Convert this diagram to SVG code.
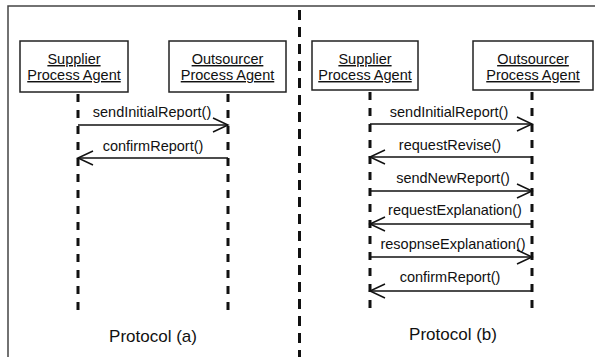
<svg xmlns="http://www.w3.org/2000/svg" width="599" height="357" viewBox="0 0 599 357">
<style>
text{font-family:"Liberation Sans",Arial,sans-serif;fill:#111}
.box{fill:#fff;stroke:#222;stroke-width:1.5}
.name{font-size:14.5px;text-decoration:underline;text-anchor:middle}
.msg{font-size:14.5px;text-anchor:middle}
.cap{font-size:17px;text-anchor:middle}
.life{stroke:#111;stroke-width:3;stroke-dasharray:8 8;fill:none}
.arr{stroke:#111;stroke-width:1.5;fill:none;marker-end:url(#ah)}
</style>
<defs>
<marker id="ah" markerUnits="userSpaceOnUse" markerWidth="20" markerHeight="20" refX="16" refY="8" orient="auto">
<path d="M1,1 L16,8 L1,15" fill="none" stroke="#111" stroke-width="1.5"/>
</marker>
</defs>
<rect width="599" height="357" fill="#fff"/>
<g id="frame">
<path d="M8,357 L8,6 L595,6" fill="none" stroke="#444" stroke-width="1.5"/>
<line x1="299.5" y1="10" x2="299.5" y2="357" stroke="#111" stroke-width="3" stroke-dasharray="10 7"/>
</g>
<g id="a-supplier">
<rect class="box" x="20" y="41" width="108" height="51"/>
<text class="name" x="74" y="64">Supplier</text>
<text class="name" x="74" y="80">Process Agent</text>
</g>
<g id="a-outsourcer">
<rect class="box" x="169" y="41" width="117" height="51"/>
<text class="name" x="227.5" y="64">Outsourcer</text>
<text class="name" x="227.5" y="80">Process Agent</text>
</g>
<g id="b-supplier">
<rect class="box" x="312" y="41" width="106" height="49"/>
<text class="name" x="365" y="64">Supplier</text>
<text class="name" x="365" y="80">Process Agent</text>
</g>
<g id="b-outsourcer">
<rect class="box" x="473" y="41" width="120" height="49"/>
<text class="name" x="533" y="64">Outsourcer</text>
<text class="name" x="533" y="80">Process Agent</text>
</g>
<g id="connectors">
<line class="life" x1="78" y1="94" x2="78" y2="312"/>
<line class="life" x1="228" y1="94" x2="228" y2="312"/>
<line class="life" x1="370" y1="92" x2="370" y2="316"/>
<line class="life" x1="532" y1="92" x2="532" y2="310"/>
<line class="arr" x1="78" y1="125" x2="228" y2="125"/>
<line class="arr" x1="228" y1="158" x2="78" y2="158"/>
<line class="arr" x1="370" y1="124" x2="532" y2="124"/>
<line class="arr" x1="532" y1="157" x2="370" y2="157"/>
<line class="arr" x1="370" y1="191" x2="532" y2="191"/>
<line class="arr" x1="532" y1="224" x2="370" y2="224"/>
<line class="arr" x1="370" y1="257" x2="532" y2="257"/>
<line class="arr" x1="532" y1="291" x2="370" y2="291"/>
</g>
<g id="labels">
<text class="msg" x="152" y="117">sendInitialReport()</text>
<text class="msg" x="153" y="151">confirmReport()</text>
<text class="msg" x="449" y="117">sendInitialReport()</text>
<text class="msg" x="450" y="150">requestRevise()</text>
<text class="msg" x="453" y="183">sendNewReport()</text>
<text class="msg" x="455" y="215">requestExplanation()</text>
<text class="msg" x="453" y="249">resopnseExplanation()</text>
<text class="msg" x="450" y="282">confirmReport()</text>
<text class="cap" x="153" y="342">Protocol (a)</text>
<text class="cap" x="453" y="340">Protocol (b)</text>
</g>
</svg>
